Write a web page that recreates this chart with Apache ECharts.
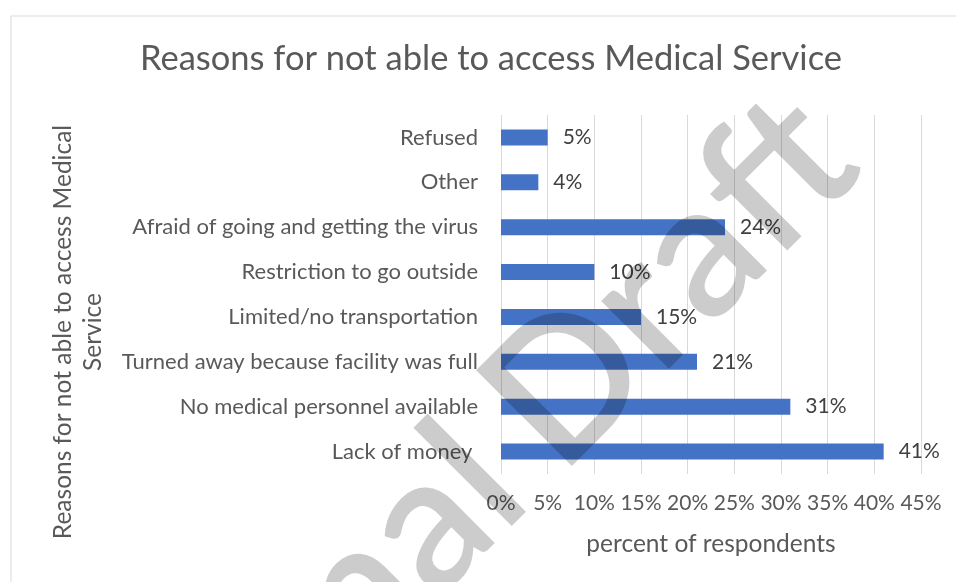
<!DOCTYPE html>
<html>
<head>
<meta charset="utf-8">
<script src="https://cdn.jsdelivr.net/npm/echarts@6/dist/echarts.min.js"></script>
<style>
  html, body { margin: 0; padding: 0; background: #ffffff; }
  #chart { width: 956px; height: 582px; }
</style>
</head>
<body>
<div id="chart"></div>
<script>
// Reasons, listed from the bottom bar to the top bar
const categories = [
  'Lack of money ',
  'No medical personnel available',
  'Turned away because facility was full',
  'Limited/no transportation',
  'Restriction to go outside',
  'Afraid of going and getting the virus',
  'Other',
  'Refused'
];
// Share of respondents, in percent
const shares = [41, 31, 21, 15, 10, 24, 4, 5];

const chartTitle = 'Reasons for not able to access Medical Service';
const xAxisTitle = 'percent of respondents';
const yAxisTitleLines = ['Reasons for not able to access Medical', 'Service'];
const watermarkWords = ['Final', 'Draft'];

const FONT = 'Lato, "Open Sans", sans-serif';
const TEXT = '#595959';

const chart = echarts.init(document.getElementById('chart'));

const wmSize = 188;
const wmFill = 'rgba(0,0,0,0.2)';

chart.setOption({
  backgroundColor: '#ffffff',
  animation: false,
  title: {
    text: chartTitle,
    left: 486,
    top: 36,
    textAlign: 'center',
    textStyle: { fontFamily: FONT, fontSize: 34.5, fontWeight: 'normal', color: TEXT }
  },
  grid: { left: 501, right: 35, top: 115, bottom: 108, containLabel: false },
  xAxis: {
    type: 'value',
    min: 0,
    max: 45,
    interval: 5,
    name: xAxisTitle,
    nameLocation: 'middle',
    nameGap: 58,
    nameTextStyle: { fontFamily: FONT, fontSize: 24.5, color: TEXT },
    axisLine: { show: false },
    axisTick: { show: false },
    axisLabel: {
      formatter: '{value}%',
      margin: 19,
      fontFamily: FONT, fontSize: 21, color: TEXT
    },
    splitLine: { show: true, lineStyle: { color: '#d9d9d9', width: 1 } }
  },
  yAxis: {
    type: 'category',
    data: categories,
    axisLine: { show: false },
    axisTick: { show: false },
    axisLabel: { margin: 23, fontFamily: FONT, fontSize: 22, color: TEXT },
    splitLine: { show: false }
  },
  series: [{
    type: 'bar',
    data: shares,
    barWidth: 16,
    itemStyle: { color: '#4472c4' },
    label: {
      show: true,
      position: 'right',
      distance: 15,
      formatter: p => p.value + '%',
      fontFamily: FONT, fontSize: 21, color: '#404040'
    }
  }],
  graphic: [
    {
      type: 'rect',
      shape: { x: 11, y: 16, width: 1200, height: 1200 },
      style: { fill: 'none', stroke: '#d9d9d9', lineWidth: 1 },
      silent: true,
      z: 1
    },
    {
      type: 'group',
      x: 78,
      y: 332,
      rotation: Math.PI / 2,
      children: yAxisTitleLines.map((line, i) => ({
        type: 'text',
        x: 0,
        y: (i - 0.5) * 30,
        style: {
          text: line,
          fontFamily: FONT, fontSize: 24.5, fill: TEXT,
          textAlign: 'center', textVerticalAlign: 'middle'
        }
      }))
    },
    {
      // diagonal watermark laid over the plot
      type: 'group',
      x: 570,
      y: 467,
      rotation: Math.PI / 4,
      z: 100,
      silent: true,
      children: [
        {
          type: 'text',
          x: -50,
          y: -0.32 * wmSize,
          z: 100,
          style: {
            text: watermarkWords[0],
            fontFamily: FONT, fontSize: wmSize, fontWeight: 600, fill: wmFill,
            textAlign: 'right', textVerticalAlign: 'middle'
          }
        },
        {
          type: 'text',
          x: -14,
          y: -0.32 * wmSize,
          z: 100,
          style: {
            text: watermarkWords[1],
            fontFamily: FONT, fontSize: wmSize, fontWeight: 600, fill: wmFill,
            textAlign: 'left', textVerticalAlign: 'middle'
          }
        }
      ]
    }
  ]
});
</script>
</body>
</html>
